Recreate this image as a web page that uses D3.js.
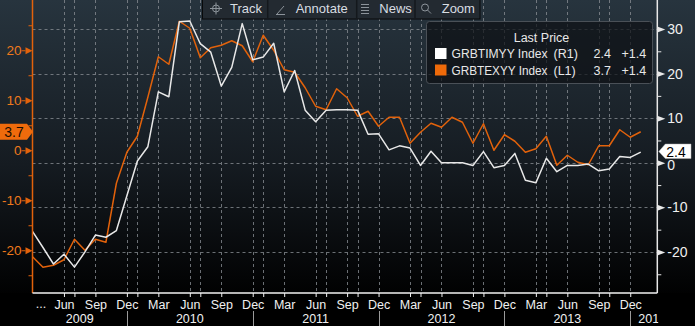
<!DOCTYPE html>
<html>
<head>
<meta charset="utf-8">
<script src="https://cdn.jsdelivr.net/npm/d3@7"></script>
<style>
  html, body { margin: 0; padding: 0; background: #000; }
  svg { display: block; }
  text { font-family: "Liberation Sans", Arial, sans-serif; }
</style>
</head>
<body>
<svg id="chart" width="695" height="326"></svg>
<script>
// ---------------- data ----------------
const months = [
  "2009-03","2009-04","2009-05","2009-06","2009-07","2009-08","2009-09","2009-10","2009-11","2009-12",
  "2010-01","2010-02","2010-03","2010-04","2010-05","2010-06","2010-07","2010-08","2010-09","2010-10","2010-11","2010-12",
  "2011-01","2011-02","2011-03","2011-04","2011-05","2011-06","2011-07","2011-08","2011-09","2011-10","2011-11","2011-12",
  "2012-01","2012-02","2012-03","2012-04","2012-05","2012-06","2012-07","2012-08","2012-09","2012-10","2012-11","2012-12",
  "2013-01","2013-02","2013-03","2013-04","2013-05","2013-06","2013-07","2013-08","2013-09","2013-10","2013-11","2013-12",
  "2014-01"
];
// GRBTIMYY Index (R1, white, right axis)
const grbtimyy = [
  -15.4, -19.0, -22.7, -20.5, -23.4, -20.0, -16.2, -16.7, -15.2, -7.4,
  0.4, 3.6, 15.9, 14.8, 31.6, 31.8, 26.7, 24.8, 17.2, 21.4, 31.2, 23.1,
  23.7, 26.8, 15.9, 20.7, 11.8, 9.2, 11.8, 11.9, 11.9, 11.8, 6.4, 6.5,
  2.9, 3.8, 3.3, -0.6, 2.6, 0.0, 0.0, 0.0, -0.6, 2.5, -1.1, -0.6,
  2.1, -3.9, -4.5, 1.0, -2.0, -0.6, -0.6, -0.3, -1.8, -1.4, 1.4, 1.2,
  2.4
];
// GRBTEXYY Index (L1, orange, left axis)
const grbtexyy = [
  -21.3, -23.4, -23.0, -21.9, -17.8, -20.0, -17.8, -18.4, -6.6, -0.4,
  2.8, 10.6, 18.7, 17.2, 25.8, 24.4, 18.5, 20.5, 21.0, 21.9, 20.9, 17.7,
  23.0, 20.0, 16.1, 15.6, 12.5, 8.8, 8.1, 12.3, 10.5, 6.8, 7.8, 4.8,
  6.6, 6.6, 1.4, 3.6, 5.4, 4.6, 6.6, 5.6, 1.4, 5.3, 0.0, 3.1,
  1.8, -0.4, 0.3, 2.8, -3.0, -1.0, -2.4, -2.9, 0.9, 0.9, 4.1, 2.6,
  3.7
];
const leftTicks = [-20, -10, 0, 10, 20];
const leftMinor = [-25, -15, -5, 5, 15, 25];
const rightTicks = [-20, -10, 0, 10, 20, 30];
const rightMinor = [-25, -15, -5, 5, 15, 25];
const monthTicks = ["2009-06","2009-09","2009-12","2010-03","2010-06","2010-09","2010-12",
  "2011-03","2011-06","2011-09","2011-12","2012-03","2012-06","2012-09","2012-12",
  "2013-03","2013-06","2013-09","2013-12"];
const monthTickLabels = ["Jun","Sep","Dec","Mar","Jun","Sep","Dec","Mar","Jun","Sep","Dec",
  "Mar","Jun","Sep","Dec","Mar","Jun","Sep","Dec"];
const extraTicks = ["2009-07","2010-01","2010-07","2011-01","2011-07","2011-10",
  "2012-04","2012-10","2013-04","2013-10"];
const yearBreaks = ["2009-12","2010-12","2011-12","2012-12","2013-12"];
const yearLabels = ["2009","2010","2011","2012","2013","2014"];
const legendNames = ["GRBTIMYY Index", "GRBTEXYY Index"];
const legendAxes = ["(R1)", "(L1)"];
const legendChanges = ["+1.4", "+1.4"];
const toolbarItems = ["Track", "Annotate", "News", "Zoom"];

// ---------------- layout ----------------
const W = 695, H = 326;
const plot = { left: 32.5, right: 657.3, top: 0, bottom: 293 };
const ORANGE = "#e2620b", ORANGE_T = "#ef7a1c", WHITE = "#e8e8e8";

const mIdx = s => { const [y, m] = s.split("-").map(Number); return (y - 2009) * 12 + (m - 1); };

const x = d3.scaleLinear().domain([2, 61.58]).range([plot.left, plot.right]);
const yL = d3.scaleLinear().domain([-28.55, 30.05]).range([plot.bottom, plot.top]);
const yR = d3.scaleLinear().domain([-29.2, 36.5]).range([plot.bottom, plot.top]);

const svg = d3.select("#chart");
const defs = svg.append("defs");
const grad = defs.append("linearGradient").attr("id", "bg")
  .attr("gradientUnits", "userSpaceOnUse").attr("x1", 0).attr("y1", 0).attr("x2", 0).attr("y2", 300);
grad.append("stop").attr("offset", 0).attr("stop-color", "#27343e");
grad.append("stop").attr("offset", 0.55).attr("stop-color", "#151b21");
grad.append("stop").attr("offset", 1).attr("stop-color", "#000000");
defs.append("clipPath").attr("id", "plotclip").append("rect")
  .attr("x", plot.left).attr("y", plot.top).attr("width", plot.right - plot.left).attr("height", plot.bottom - plot.top);
defs.append("clipPath").attr("id", "yearclip").append("rect")
  .attr("x", 0).attr("y", 295).attr("width", plot.right + 1).attr("height", 40);

svg.append("rect").attr("width", W).attr("height", H).attr("fill", "url(#bg)");
svg.append("rect").attr("x", 0).attr("y", plot.bottom).attr("width", W).attr("height", H - plot.bottom).attr("fill", "#000");

// ---------------- gridlines ----------------
const grid = svg.append("g").attr("stroke", "#858a90").attr("stroke-width", 1)
  .attr("stroke-dasharray", "3,3").attr("opacity", 0.8);
grid.selectAll("line.h").data(rightTicks).join("line").attr("class", "h")
  .attr("x1", plot.left).attr("x2", plot.right)
  .attr("y1", d => Math.round(yR(d)) + 0.5).attr("y2", d => Math.round(yR(d)) + 0.5);
grid.selectAll("line.v").data(monthTicks.concat(extraTicks)).join("line").attr("class", "v")
  .attr("x1", d => Math.round(x(mIdx(d))) + 0.5).attr("x2", d => Math.round(x(mIdx(d))) + 0.5)
  .attr("y1", plot.top).attr("y2", plot.bottom);

// ---------------- toolbar ----------------
const tb = svg.append("g");
tb.append("rect").attr("x", 202.5).attr("y", -2).attr("width", 277.5).attr("height", 21)
  .attr("fill", "#232a31").attr("stroke", "#08090a").attr("stroke-width", 1);
[267.7, 356.7, 415].forEach(sx => {
  tb.append("line").attr("x1", sx).attr("x2", sx).attr("y1", 0).attr("y2", 18).attr("stroke", "#14181c").attr("stroke-width", 1.5);
});
const tbX = [230, 295.7, 379.3, 441.7];
tb.selectAll("text").data(toolbarItems).join("text")
  .attr("x", (d, i) => tbX[i]).attr("y", 13).attr("fill", "#d8dde2").attr("font-size", 13).text(d => d);
// icons
const ic = tb.append("g").attr("stroke", "#8c939a").attr("fill", "none").attr("stroke-width", 1);
ic.append("circle").attr("cx", 216).attr("cy", 8.5).attr("r", 3.5);
ic.append("path").attr("d", "M210,8.5H222M216,2.5V14.5");
ic.append("path").attr("d", "M277,14 L284,6 M276,14.5 H285");
ic.append("path").attr("d", "M361,4.5H369M361,7.5H369M361,10.5H369M361,13.5H369");
ic.append("circle").attr("cx", 425).attr("cy", 7.5).attr("r", 3.5);
ic.append("path").attr("d", "M427.5,10 L431,13.5");

// ---------------- lines ----------------
const lines = svg.append("g").attr("clip-path", "url(#plotclip)");
const lineR = d3.line().x((d, i) => x(mIdx(months[i]))).y(d => yR(d));
const lineL = d3.line().x((d, i) => x(mIdx(months[i]))).y(d => yL(d));
lines.append("path").datum(grbtexyy).attr("d", lineL).attr("fill", "none")
  .attr("stroke", ORANGE).attr("stroke-width", 1.5).attr("stroke-linejoin", "round");
lines.append("path").datum(grbtimyy).attr("d", lineR).attr("fill", "none")
  .attr("stroke", WHITE).attr("stroke-width", 1.5).attr("stroke-linejoin", "round");

// ---------------- left axis (L1) ----------------
const gL = svg.append("g").attr("transform", `translate(${plot.left},0)`);
gL.call(d3.axisLeft(yL).tickValues(leftTicks).tickSize(0).tickPadding(11).tickFormat(d => d < 0 ? "-" + Math.abs(d) : d));
gL.select(".domain").attr("stroke", ORANGE).attr("stroke-width", 1.5).attr("d", `M0,${plot.top}V${plot.bottom}`);
gL.selectAll(".tick text").attr("fill", ORANGE_T).attr("font-size", 13.5).attr("font-family", "Liberation Sans, Arial, sans-serif");
gL.selectAll(".tick").append("path").attr("d", "M-7,-3.5 L0,0 L-7,3.5 Z").attr("fill", ORANGE);
gL.selectAll(".tick").append("line").attr("x1", -11).attr("x2", -7).attr("stroke", ORANGE);
const gLm = svg.append("g").attr("transform", `translate(${plot.left},0)`);
gLm.call(d3.axisLeft(yL).tickValues(leftMinor).tickSize(4).tickFormat(""));
gLm.select(".domain").remove();
gLm.selectAll(".tick line").attr("stroke", ORANGE);

// ---------------- right axis (R1) ----------------
const gR = svg.append("g").attr("transform", `translate(${plot.right},0)`);
gR.call(d3.axisRight(yR).tickValues(rightTicks).tickSize(0).tickPadding(10).tickFormat(d => d < 0 ? "-" + Math.abs(d) : d));
gR.select(".domain").attr("stroke", WHITE).attr("stroke-width", 1.5).attr("d", `M0,${plot.top}V${plot.bottom}`);
gR.selectAll(".tick text").attr("fill", "#f0f0f0").attr("font-size", 14).attr("font-family", "Liberation Sans, Arial, sans-serif")
  .attr("dy", d => d === 0 ? "0.5em" : "0.32em");
gR.selectAll(".tick").append("path").attr("d", "M0,-3 L8,0 L0,3 Z").attr("fill", WHITE);
const gRm = svg.append("g").attr("transform", `translate(${plot.right},0)`);
gRm.call(d3.axisRight(yR).tickValues(rightMinor).tickSize(4).tickFormat(""));
gRm.select(".domain").remove();
gRm.selectAll(".tick line").attr("stroke", WHITE);

// ---------------- bottom axis ----------------
const gB = svg.append("g").attr("transform", `translate(0,${plot.bottom})`);
gB.call(d3.axisBottom(x).tickValues(monthTicks.map(mIdx).concat(extraTicks.map(mIdx)))
  .tickSize(4).tickPadding(3)
  .tickFormat(d => { const k = monthTicks.map(mIdx).indexOf(d); return k >= 0 ? monthTickLabels[k] : ""; }));
gB.select(".domain").attr("stroke", "#f2f2f2").attr("stroke-width", 1.5).attr("d", `M${plot.left},0H${plot.right}`);
gB.selectAll(".tick line").attr("stroke", "#f2f2f2");
gB.selectAll(".tick text").attr("fill", "#f0f0f0").attr("font-size", 12.5).attr("font-family", "Liberation Sans, Arial, sans-serif");
svg.append("text").attr("x", 41).attr("y", 308).attr("text-anchor", "middle")
  .attr("fill", "#f0f0f0").attr("font-size", 12.5).text("...");

// year separators and labels
const yb = yearBreaks.map(d => x(mIdx(d)));
svg.append("g").selectAll("line").data(yb).join("line")
  .attr("x1", d => Math.round(d) + 0.5).attr("x2", d => Math.round(d) + 0.5)
  .attr("y1", 311).attr("y2", 326).attr("stroke", "#9a9a9a").attr("stroke-width", 1);
const yearG = svg.append("g").attr("clip-path", "url(#yearclip)");
yearG.selectAll("text").data(yearLabels).join("text")
  .attr("x", (d, i) => i === 0 ? (plot.left + yb[0]) / 2 : (i < yb.length ? (yb[i - 1] + yb[i]) / 2 : yb[i - 1] + 8))
  .attr("text-anchor", (d, i) => i < yb.length ? "middle" : "start")
  .attr("y", 323).attr("fill", "#f0f0f0").attr("font-size", 12.5).text(d => d);

// ---------------- last value tags ----------------
const lastL = grbtexyy[grbtexyy.length - 1], lastR = grbtimyy[grbtimyy.length - 1];
const tL = yL(lastL);
svg.append("path").attr("d", `M0,${tL - 8}H27L33,${tL}L27,${tL + 8}H0Z`).attr("fill", "#ef6b0c");
svg.append("text").attr("x", 14).attr("y", tL + 5).attr("text-anchor", "middle")
  .attr("fill", "#1a0d00").attr("font-size", 14).text(lastL.toFixed(1));
const tR = yR(lastR) - 0.5;
svg.append("path").attr("d", `M${plot.right + 1.5},${tR}L${plot.right + 8},${tR - 7.5}H691V${tR + 7}H${plot.right + 8}Z`)
  .attr("fill", "#ffffff").attr("stroke", "#bbb").attr("stroke-width", 0.5);
svg.append("text").attr("x", plot.right + 9).attr("y", tR + 5)
  .attr("fill", "#000").attr("font-size", 14).text(lastR.toFixed(1));

// ---------------- legend ----------------
const lg = svg.append("g");
lg.append("rect").attr("x", 426.5).attr("y", 21.5).attr("width", 226).attr("height", 62).attr("rx", 3)
  .attr("fill", "rgba(14,17,21,0.72)").attr("stroke", "#4a5057").attr("stroke-width", 1);
lg.append("text").attr("x", 541.5).attr("y", 42).attr("text-anchor", "middle")
  .attr("fill", "#e8e8e8").attr("font-size", 12.5).text("Last Price");
const legendVals = [lastR, lastL];
legendNames.forEach((nm, i) => {
  const by = 58 + i * 16.5;
  lg.append("rect").attr("x", 435).attr("y", by - 10).attr("width", 11.5).attr("height", 11)
    .attr("fill", i === 0 ? "#ffffff" : "#ee6a0a");
  lg.append("text").attr("x", 451.5).attr("y", by).attr("fill", "#e8e8e8").attr("font-size", 12)
    .attr("textLength", 96).attr("lengthAdjust", "spacingAndGlyphs").text(nm);
  lg.append("text").attr("x", 553.5).attr("y", by).attr("fill", "#e8e8e8").attr("font-size", 12.5).text(legendAxes[i]);
  lg.append("text").attr("x", 593.5).attr("y", by).attr("fill", "#e8e8e8").attr("font-size", 12.5).text(legendVals[i].toFixed(1));
  lg.append("text").attr("x", 621.5).attr("y", by).attr("fill", "#e8e8e8").attr("font-size", 12.5).text(legendChanges[i]);
});
</script>
</body>
</html>
